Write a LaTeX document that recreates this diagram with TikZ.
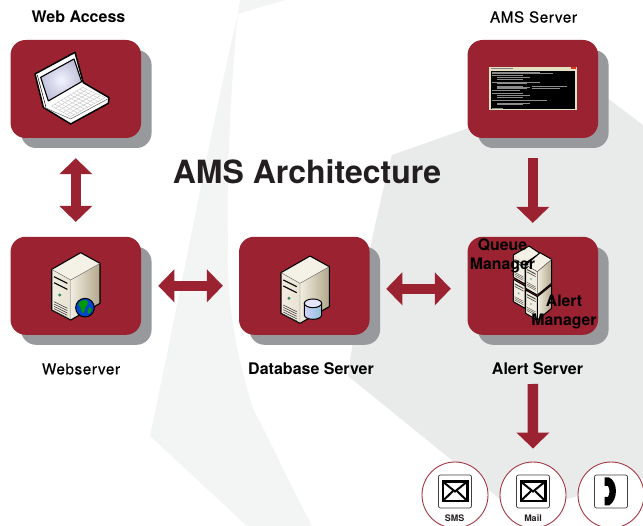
\documentclass[tikz,border=0pt]{standalone}
\usepackage{fontspec}
\setmainfont{TeX Gyre Heros}
\newfontfamily\spacedfont[LetterSpace=4,FakeBold=0.5]{TeX Gyre Heros}
\usetikzlibrary{arrows.meta,shadows,calc,shapes.geometric}
\definecolor{brick}{HTML}{9B2230}
\definecolor{shade}{HTML}{97999C}
\definecolor{bgone}{HTML}{F3F4F4}
\definecolor{bgtwo}{HTML}{E9EBEA}
\definecolor{ink}{HTML}{231F20}
\definecolor{cream}{HTML}{F1EDE0}
\definecolor{tan}{HTML}{B3A78A}
\tikzset{
 card/.style={rectangle,rounded corners=15pt,fill=brick,minimum width=130.5pt,minimum height=98pt,inner sep=0pt,
   general shadow={shadow xshift=10.5pt,shadow yshift=-10pt,fill=shade}},
 flow/.style={draw=brick,line width=10.5pt,-{Triangle[length=16pt,width=32pt,sep=0pt]}},
 twoway/.style={draw=brick,line width=10.5pt,{Triangle[length=16pt,width=32pt,sep=0pt]}-{Triangle[length=16pt,width=32pt,sep=0pt]}},
 caption/.style={font=\fontsize{16}{18}\selectfont\bfseries,text=black,inner sep=0pt},
 plaincaption/.style={font=\fontsize{15.2}{17}\selectfont\spacedfont,text=black,inner sep=0pt},
 overlabel/.style={font=\fontsize{15.8}{19}\selectfont\bfseries,text=black,inner sep=0pt,align=center},
 disc/.style={circle,draw=brick!90,line width=.9pt,fill=white,minimum size=66pt,inner sep=0pt},
 tinylabel/.style={font=\fontsize{9}{10}\selectfont\bfseries,text=ink,inner sep=0pt},
}
\newcommand{\towericon}[2]{%
\begin{scope}[shift={(#1,#2)},x=.3333pt,y=-.3333pt,line join=round]
 \fill[left color=cream,right color=cream!85!tan] (-87,50)--(-30,82)--(-30,202)--(-87,172)--cycle;
 \fill[left color=cream,right color=tan] (-30,82)--(58,32)--(58,152)--(-30,202)--cycle;
 \fill[cream!80!white] (-87,50)--(0,0)--(58,32)--(-30,82)--cycle;
 \draw[black,line width=1.1pt] (-87,50)--(0,0)--(58,32)--(58,152)--(-30,202)--(-87,172)--cycle;
 \draw[black!60,line width=.4pt] (-87,50)--(-30,82)--(58,32) (-30,82)--(-30,202);
 \draw[black,line width=1.2pt] (-80,72)--(-40,92) (-80,90)--(-40,110);
 \fill[black!60] (-63,127) circle (5);
 \fill[teal!70!green] (-63,127) circle (3.2);
 \foreach \d in {147,154,161,168,175}{\draw[black!75,line width=.55pt] (-80,\d)--(-40,\d+20);}
\end{scope}}
\newcommand{\tallface}[1]{%
 \fill[black!75] ($#1+(4,12)$)--($#1+(30,26)$)--($#1+(30,29)$)--($#1+(4,15)$)--cycle;
 \fill[black!75] ($#1+(4,20)$)--($#1+(30,34)$)--($#1+(30,36)$)--($#1+(4,22)$)--cycle;
 \fill[teal!70] ($#1+(16,42)$) circle (2.8);
 \foreach \d in {52,57,62}{\draw[black!70,line width=.4pt] ($#1+(4,\d)$)--($#1+(30,\d+14)$);}
}
\begin{document}
\begin{tikzpicture}[x=1pt,y=-1pt]
\useasboundingbox (0,0) rectangle (643,526);
% background swooshes
\fill[white] (0,0) rectangle (643,526);
\fill[bgone] (238,14)--(285,0)--(240,0)--cycle;
\fill[bgone] (238,14) .. controls (215,110) and (185,270) .. (150,436)--(247,526)--(312,526) .. controls (285,475) and (270,440) .. (253,409) .. controls (235,350) and (226,300) .. (228,240) .. controls (226,170) and (232,70) .. (238,14)--cycle;
\fill[bgtwo] (392,155)--(590,85)--(643,125)--(643,478)--(517,513)--(348,376) .. controls (358,300) and (375,220) .. (392,155)--cycle;
% cards
\node[card] (access) at (75.8,89) {};
\node[card] (ams) at (532.8,89) {};
\node[card] (web) at (75.8,285.8) {};
\node[card] (db) at (304.3,285.8) {};
\node[card] (alert) at (532.8,285.8) {};
% discs
\node[disc] (sms) at (455,495) {};
\node[disc] (mail) at (533,495) {};
\node[disc] (phone) at (611,495) {};
% connectors
\draw[twoway] ([yshift=-20pt]access.south) -- ([yshift=14.7pt]web.north);
\draw[twoway] ([xshift=17pt]web.east) -- ([xshift=-16pt]db.west);
\draw[twoway] ([xshift=16.5pt,yshift=-3pt]db.east) -- ([xshift=-16.5pt,yshift=-3pt]alert.west);
\draw[flow] ([yshift=-20pt]ams.south) -- ([yshift=13.7pt]alert.north);
\draw[flow] ([yshift=-49pt]alert.south) -- ([yshift=13pt]mail.north);
% laptop
\begin{scope}[shift={(0,0)},x=.3333pt,y=-.3333pt,line join=round]
 \fill[white] (105,222)--(225,157)--(250,248)--(327,293)--(325,310)--(212,372)--(130,322)--cycle;
 \draw[black,line width=1.5pt] (105,222)--(225,157)--(250,248)--(327,293)--(325,310)--(212,372)--(130,322)--cycle;
 \shade[inner color=blue!5!white,outer color=blue!25!gray!40] (122,232)--(222,177)--(245,245)--(145,303)--cycle;
 \draw[black,line width=1.1pt] (122,232)--(222,177)--(245,245)--(145,303)--cycle;
 \draw[black,line width=.5pt] (112,225)--(138,322);
 \coordinate (ka) at (155,318); \coordinate (kb) at (248,262); \coordinate (kc) at (315,293); \coordinate (kd) at (212,350);
 \foreach \t in {0,.1,...,1.01}{\draw[black!22,line width=.45pt] ($(ka)!\t!(kb)$)--($(kd)!\t!(kc)$);}
 \foreach \t in {0,.2,...,1.01}{\draw[black!22,line width=.45pt] ($(ka)!\t!(kd)$)--($(kb)!\t!(kc)$);}
 \draw[black!60,line width=.5pt] (132,322)--(212,357)--(325,296);
\end{scope}
% console
\begin{scope}[shift={(460,30)},x=.3333pt,y=-.3333pt]
 \fill[gray!40!olive!25!white] (88,110) rectangle (350,240);
 \fill[black] (93,122) rectangle (346,236);
 \fill[gray] (92,113) rectangle (160,118);
 \fill[red!60!brown] (332,112) rectangle (348,118);
 \foreach \a/\b/\c in {96/127/240,96/131/280,96/135/190,110/143/210,110/147/190,96/156/240,110/160/200,110/168/190,110/172/210,110/176/200,96/180/180,215/170/320,215/175/300,96/190/190,110/197/210,110/201/190,96/210/260,110/220/210,110/224/190,96/234/130}{
   \draw[white!55!black,line width=.65pt] (\a,\b)--(\c,\b);}
\end{scope}
% towers
\towericon{80.7}{252.7}
\begin{scope}[shift={(0,230)},x=.3333pt,y=-.3333pt]
 \fill[blue!65!cyan!80!black] (255,233) circle (28);
 \fill[green!60!black] (240,215) .. controls (255,205) and (270,212) .. (262,225) .. controls (252,230) and (258,245) .. (248,250) .. controls (240,240) and (245,228) .. (235,225)--cycle;
 \fill[green!60!black] (268,232) .. controls (278,232) and (278,245) .. (265,252) .. controls (262,245) and (262,238) .. (268,232)--cycle;
 \draw[black,line width=1pt] (255,233) circle (28);
\end{scope}
\towericon{310}{256}
\begin{scope}[shift={(270,250)},x=.3333pt,y=-.3333pt]
 \shade[left color=blue!18!white,right color=blue!30!cyan!45!gray!60!white,draw=black,line width=1pt] (103,160)--(103,195) arc[start angle=180,end angle=0,x radius=26,y radius=13] --(155,160)--cycle;
 \draw[black,line width=1pt,fill=blue!10!white] (129,160) ellipse[x radius=26,y radius=13];
\end{scope}
% quad server
\begin{scope}[shift={(505,240)},x=.3333pt,y=-.3333pt,line join=round]
 % back column
 \fill[cream] (25,118)--(60,138)--(60,205)--(25,185)--cycle;
 \draw[black,line width=1pt] (25,118)--(60,138)--(60,205)--(25,185)--cycle;
 \tallface{(25,118)}
 \fill[cream] (25,45)--(60,70)--(60,132)--(25,112)--cycle;
 \fill[cream!80!white] (25,45)--(72,18)--(105,40)--(60,70)--cycle;
 \draw[black,line width=1pt] (25,45)--(72,18)--(105,40)--(60,70)--(60,132)--(25,112)--cycle;
 \tallface{(25,45)}
 % front column, lower
 \fill[cream] (62,150)--(97,170)--(97,240)--(62,220)--cycle;
 \fill[left color=cream,right color=tan] (97,170)--(140,135)--(140,205)--(97,240)--cycle;
 \draw[black,line width=1pt] (62,150)--(97,170)--(140,135)--(140,205)--(97,240)--(62,220)--cycle (97,170)--(97,240);
 \tallface{(62,150)}
 % front column, upper
 \fill[cream] (62,75)--(97,95)--(97,165)--(62,145)--cycle;
 \fill[left color=cream,right color=tan] (97,95)--(140,58)--(140,130)--(97,165)--cycle;
 \fill[cream!80!white] (62,75)--(105,38)--(140,58)--(97,95)--cycle;
 \draw[black,line width=1pt] (62,75)--(105,38)--(140,58)--(140,130)--(97,165)--(62,145)--cycle;
 \draw[black!70,line width=.5pt] (62,75)--(97,95)--(140,58) (97,95)--(97,165);
 \tallface{(62,75)}
\end{scope}
% contact icons
\foreach \c in {sms,mail,phone}{
 \draw[black!75,fill=white,line width=.7pt,rounded corners=2pt] ($(\c.center)+(-16.5,-20)$) rectangle ($(\c.center)+(16.5,13)$);
}
\foreach \c in {sms,mail}{
 \draw[black,line width=2.4pt,line join=miter] ($(\c.center)+(-12.3,-13.5)$) rectangle ($(\c.center)+(12.3,6)$);
 \draw[black,line width=2pt] ($(\c.center)+(-12.3,-13.5)$) -- ($(\c.center)+(0,-3.5)$) -- ($(\c.center)+(12.3,-13.5)$);
 \draw[black,line width=2pt] ($(\c.center)+(-12.3,6)$) -- ($(\c.center)+(-2,-4)$);
 \draw[black,line width=2pt] ($(\c.center)+(12.3,6)$) -- ($(\c.center)+(2,-4)$);
}
\fill[black] ($(phone.center)+(-6.5,-17.5)$) -- ($(phone.center)+(-2,-17.5)$) .. controls ($(phone.center)+(7,-14)$) and ($(phone.center)+(7.5,5)$) .. ($(phone.center)+(-2,10.5)$) -- ($(phone.center)+(-6.5,10.5)$) -- ($(phone.center)+(-6.5,2)$) -- ($(phone.center)+(-3,2)$) .. controls ($(phone.center)+(-1,-2)$) and ($(phone.center)+(-1,-6)$) .. ($(phone.center)+(-3,-9)$) -- ($(phone.center)+(-6.5,-9)$) -- cycle;
% text
\node[font=\fontsize{32}{36}\selectfont\bfseries,text=ink,inner sep=0pt] (title) at (307,172) {AMS Architecture};
\node[caption] (lblaccess) at (78.5,17) {Web Access};
\node[plaincaption] (lblams) at (533.5,17) {AMS Server};
\node[plaincaption] (lblweb) at (81,369) {Webserver};
\node[caption] (lbldb) at (311,369) {Database Server};
\node[caption] (lblalert) at (537.5,369) {Alert Server};
\node[overlabel] (queue) at (502.5,255.5) {Queue\\Manager};
\node[overlabel] (alertmgr) at (564,311.5) {Alert\\Manager};
\node[tinylabel] (lblsms) at (454.5,518) {SMS};
\node[tinylabel] (lblmail) at (533,518) {Mail};
\end{tikzpicture}
\end{document}
